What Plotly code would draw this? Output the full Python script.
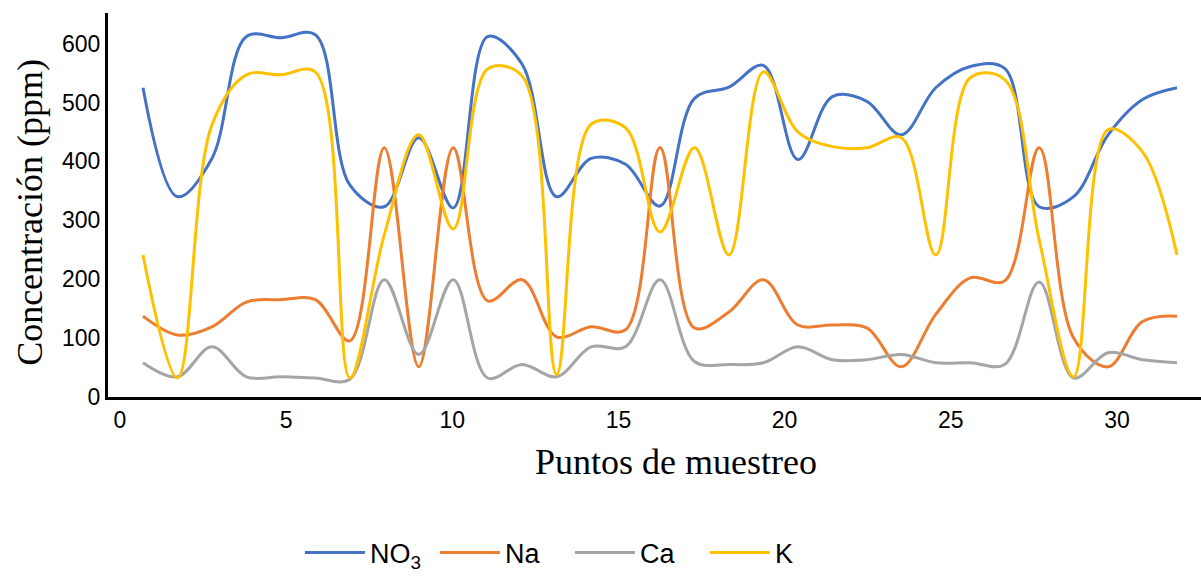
import plotly.graph_objects as go

# Sampling points
puntos = list(range(1, 32))

# Series values (ppm)
no3 = [525, 340, 405, 612, 610, 615, 360, 323, 440, 321, 612, 565, 340, 405, 395, 324,
       507, 526, 563, 403, 510, 502, 445, 525, 561, 558, 323, 340, 445, 505, 525]
na = [137, 105, 119, 161, 165, 165, 95, 423, 51, 423, 163, 199, 102, 119, 114, 423,
      117, 144, 199, 122, 122, 117, 51, 140, 202, 197, 423, 100, 51, 128, 137]
ca = [58, 34, 85, 34, 34, 32, 30, 199, 72, 199, 32, 55, 34, 85, 85, 199,
      60, 55, 58, 85, 63, 63, 72, 58, 58, 55, 195, 32, 75, 63, 58]
k = [241, 32, 462, 547, 547, 552, 32, 275, 445, 285, 557, 545, 38, 463, 457, 280,
     423, 241, 552, 450, 425, 423, 440, 241, 542, 539, 267, 34, 454, 416, 241]

series_names = ["NO<sub>3</sub>", "Na", "Ca", "K"]
series_values = [no3, na, ca, k]
series_colors = ["#4472C4", "#ED7D31", "#A5A5A5", "#FFC000"]

x_ticks = [0, 5, 10, 15, 20, 25, 30]
y_ticks = [0, 100, 200, 300, 400, 500, 600]

fig = go.Figure()

# empty trace so the tick axis (x) is drawn; it has no marks
fig.add_trace(go.Scatter(x=[], y=[], mode="lines", showlegend=False,
                         hoverinfo="skip", xaxis="x", yaxis="y"))

for name, vals, col in zip(series_names, series_values, series_colors):
    fig.add_trace(go.Scatter(
        x=puntos, y=vals, name=name, mode="lines",
        line=dict(color=col, width=3, shape="spline", smoothing=1.0),
        xaxis="x2", yaxis="y",
    ))

tick_font = dict(family="Liberation Sans, Arial, sans-serif", size=23, color="black")
title_font = dict(family="Liberation Serif, Times New Roman, serif", size=36, color="black")

fig.update_layout(
    width=1201, height=578,
    margin=dict(l=108, r=0, t=13, b=181),
    paper_bgcolor="white", plot_bgcolor="white",
    showlegend=True,
    legend=dict(
        orientation="h", x=0.4226, xanchor="center", y=-0.406, yanchor="middle",
        font=dict(family="Liberation Sans, Arial, sans-serif", size=27, color="black"),
        itemwidth=60, entrywidth=60, entrywidthmode="pixels", tracegroupgap=0,
    ),
    xaxis=dict(
        range=[-0.361, 32.53], tickvals=x_ticks, ticktext=[str(v) for v in x_ticks],
        showgrid=False, zeroline=False, showline=True, linecolor="black", linewidth=3,
        ticks="", tickfont=tick_font, automargin=False,
    ),
    xaxis2=dict(
        range=[-0.0154, 31.696], overlaying="x", anchor="y", visible=False,
        showgrid=False, zeroline=False,
    ),
    yaxis=dict(
        range=[-0.3, 652], tickvals=y_ticks, ticktext=[str(v) for v in y_ticks],
        showgrid=False, zeroline=False, showline=True, linecolor="black", linewidth=3,
        ticks="", tickfont=tick_font, automargin=False,
    ),
    annotations=[
        dict(text="Concentración (ppm)", xref="paper", yref="paper",
             x=-0.0714, y=0.482, textangle=-90, showarrow=False,
             xanchor="center", yanchor="middle", font=title_font),
        dict(text="Puntos de muestreo", xref="paper", yref="paper",
             x=0.5197, y=-0.169, showarrow=False,
             xanchor="center", yanchor="middle", font=title_font),
    ],
)

fig.write_html("out.html")
